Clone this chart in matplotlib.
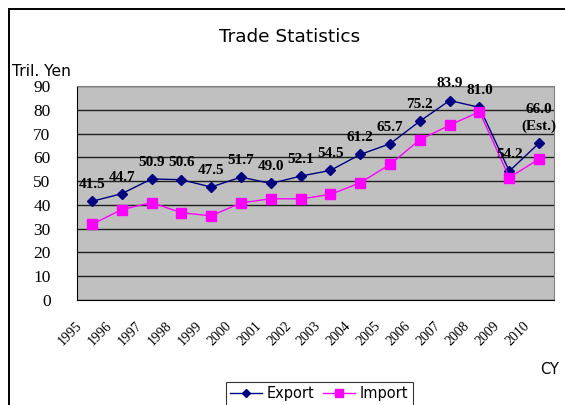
import matplotlib
matplotlib.use('Agg')
import matplotlib.pyplot as plt
from matplotlib.lines import Line2D
from matplotlib.transforms import ScaledTranslation

years = ['1995', '1996', '1997', '1998', '1999', '2000', '2001', '2002',
         '2003', '2004', '2005', '2006', '2007', '2008', '2009', '2010']
export = [41.5, 44.7, 50.9, 50.6, 47.5, 51.7, 49.0, 52.1,
          54.5, 61.2, 65.7, 75.2, 83.9, 81.0, 54.2, 66.0]
imports = [31.8, 38.0, 41.0, 36.7, 35.4, 40.8, 42.6, 42.5,
           44.4, 49.3, 57.0, 67.4, 73.5, 79.2, 51.5, 59.3]
export_labels = ['41.5', '44.7', '50.9', '50.6', '47.5', '51.7', '49.0', '52.1',
                 '54.5', '61.2', '65.7', '75.2', '83.9', '81.0', '54.2', '66.0\n(Est.)']
yticks = [0, 10, 20, 30, 40, 50, 60, 70, 80, 90]

serif = 'Liberation Serif'
sans = 'DejaVu Sans'
plt.rcParams['font.family'] = [serif, 'DejaVu Serif']

W, H = 565, 405
fig = plt.figure(figsize=(W / 100, H / 100), dpi=100)
fig.patch.set_facecolor('white')

# plot area in pixels: x 77..554, y 86..300
ax = fig.add_axes([77 / W, 1 - 300 / H, 477 / W, 214 / H])
ax.set_facecolor('#C0C0C0')

x = list(range(len(years)))
ax.plot(x, export, color='#000080', lw=1, marker='D', ms=5.5,
        mfc='#000080', mec='#000080', zorder=3, label='Export')
ax.plot(x, imports, color='#FF00FF', lw=1, marker='s', ms=7,
        mfc='#FF00FF', mec='#FF00FF', zorder=3, label='Import')

for xi, v, t in zip(x, export, export_labels):
    ax.annotate(t, (xi, v), xytext=(0, 9.5), textcoords='offset points',
                ha='center', va='baseline', fontsize=11, fontweight='bold',
                family=serif, linespacing=1.3, zorder=4)

ax.set_xlim(-0.5, len(years) - 0.5)
ax.set_ylim(0, 90)
ax.set_yticks(yticks)
ax.set_yticklabels([str(v) for v in yticks], family=serif, fontsize=12.5)
ax.yaxis.grid(True, color='#202020', lw=1)
ax.set_axisbelow(True)
ax.tick_params(axis='y', length=0, pad=19)
ax.tick_params(axis='x', length=0, pad=14)
ax.set_xticks(x)
ax.set_xticklabels(years, rotation=45, ha='right', va='top',
                   family=serif, fontsize=10)
for lbl in ax.get_xticklabels():
    lbl.set_transform(lbl.get_transform() + ScaledTranslation(-5 / 72, 0, fig.dpi_scale_trans))

for s in ['top', 'right']:
    ax.spines[s].set_color('#808080')
for s in ['left', 'bottom']:
    ax.spines[s].set_color('black')

fig.text(290 / W, 1 - 37 / H, 'Trade Statistics', ha='center', va='center',
         fontsize=13.3, family=sans)
fig.text(12 / W, 1 - 72 / H, 'Tril. Yen', ha='left', va='center',
         fontsize=11.2, family=sans)
fig.text(550 / W, 1 - 370 / H, 'CY', ha='center', va='center',
         fontsize=10.5, family=sans)

# outer chart frame (top and left edges visible)
fig.add_artist(Line2D([9 / W, 9 / W], [-0.1, 1 - 9 / H], color='black', lw=1.4))
fig.add_artist(Line2D([9 / W, 1.1], [1 - 9 / H, 1 - 9 / H], color='black', lw=1.4))

leg = fig.legend(loc='upper left', bbox_to_anchor=(226 / W, 1 - 382 / H),
                 ncol=2, frameon=True, fancybox=False, edgecolor='black',
                 prop={'family': sans, 'size': 10.5},
                 handlelength=2.2, columnspacing=0.6,
                 handletextpad=0.3, borderpad=0.3, markerscale=0.75,
                 borderaxespad=0)
leg.get_frame().set_linewidth(0.8)

fig.savefig('out.png', dpi=100)
